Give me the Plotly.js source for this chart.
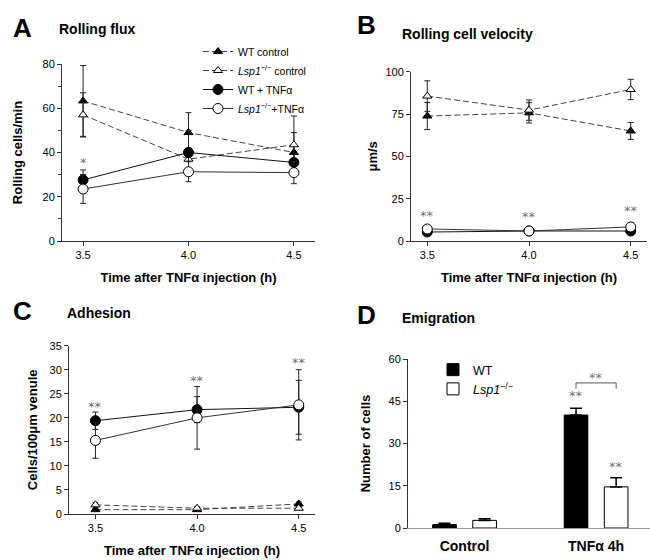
<!DOCTYPE html>
<html>
<head>
<meta charset="utf-8">
<script src="https://cdn.plot.ly/plotly-3.0.1.min.js"></script>
<style>html,body{margin:0;padding:0;background:#fff;}#chart{width:650px;height:560px;}</style>
</head>
<body>
<div id="chart"></div>
<script>
// ---------- data ----------
const times = [3.5, 4.0, 4.5];

// A: Rolling flux (cells/min)
const fluxWTctrl = [63.3, 49, 40];     const fluxWTctrlErr = [16, 9, 9];
const fluxKOctrl = [57, 37, 43.5];     const fluxKOctrlErr = [10, 5, 13];
const fluxWTtnf  = [27.6, 40, 35.5];   const fluxWTtnfErr  = [4.5, 10, 4];
const fluxKOtnf  = [23.5, 31.3, 30.9]; const fluxKOtnfErr  = [6.5, 4.5, 5];
const fluxStarX = [3.5]; const fluxStarY = [35.5]; const fluxStarT = ['*'];

// B: Rolling cell velocity (um/s)
const velWTctrl = [73.8, 75.7, 65];  const velWTctrlErr = [8, 6, 5];
const velKOctrl = [85.6, 77.3, 89.5]; const velKOctrlErr = [9, 6, 6];
const velWTtnf  = [5.3, 5.9, 5.9];   const velWTtnfErr  = [1, 1, 1];
const velKOtnf  = [7.1, 5.9, 8.3];   const velKOtnfErr  = [1.5, 1, 2.5];
const velStarX = [3.5, 4.0, 4.5]; const velStarY = [15.2, 14.2, 17.8]; const velStarT = ['**', '**', '**'];

// C: Adhesion (cells/100um venule)
const adhWTctrl = [0.9, 0.9, 2.1];    const adhWTctrlErr = [0.3, 0.3, 0.4];
const adhKOctrl = [1.9, 1.2, 1.2];    const adhKOctrlErr = [0.4, 0.3, 0.3];
const adhWTtnf  = [19.4, 21.7, 22.2]; const adhWTtnfErr  = [1.8, 2.7, 5.6];
const adhKOtnf  = [15.3, 20.0, 22.7]; const adhKOtnfErr  = [3.7, 6.5, 7.3];
const adhStarX = [3.5, 4.0, 4.5]; const adhStarY = [22.3, 27.7, 31.5]; const adhStarT = ['**', '**', '**'];

// D: Emigration (number of cells)
const groups = ['Control', 'TNFα 4h'];
const emWT = [1.2, 40.1]; const emWTErr = [0.5, 2.4];
const emKO = [2.7, 14.6]; const emKOErr = [0.6, 3.2];

// ---------- styles ----------
const FONT = 'Liberation Sans, Arial, sans-serif';
const names = ['WT control', '<i>Lsp1</i><sup>−/−</sup> control', 'WT + TNFα', '<i>Lsp1</i><sup>−/−</sup>+TNFα'];
const styles = [
  {symbol: 'triangle-up', fill: '#000', dash: '6px,3px', lc: '#444', size: 8},
  {symbol: 'triangle-up', fill: '#fff', dash: '6px,3px', lc: '#444', size: 8},
  {symbol: 'circle', fill: '#000', dash: 'solid', lc: '#111', size: 10},
  {symbol: 'circle', fill: '#fff', dash: 'solid', lc: '#333', size: 10}
];

function series(vals, errs, idx, xa, ya, showleg) {
  const s = styles[idx];
  return {
    type: 'scatter', mode: 'lines+markers', x: times, y: vals,
    xaxis: xa, yaxis: ya, name: names[idx], showlegend: showleg, legend: 'legend',
    line: {color: s.lc, width: 1, dash: s.dash},
    marker: {symbol: s.symbol, size: s.size, color: s.fill, line: {color: '#000', width: 1}},
    error_y: {type: 'data', array: errs, visible: true, color: '#222', thickness: 1, width: 3}
  };
}

const data = [
  series(fluxWTctrl, fluxWTctrlErr, 0, 'x', 'y', true),
  series(fluxKOctrl, fluxKOctrlErr, 1, 'x', 'y', true),
  series(fluxWTtnf, fluxWTtnfErr, 2, 'x', 'y', true),
  series(fluxKOtnf, fluxKOtnfErr, 3, 'x', 'y', true),
  series(velWTctrl, velWTctrlErr, 0, 'x2', 'y2', false),
  series(velKOctrl, velKOctrlErr, 1, 'x2', 'y2', false),
  series(velWTtnf, velWTtnfErr, 2, 'x2', 'y2', false),
  series(velKOtnf, velKOtnfErr, 3, 'x2', 'y2', false),
  series(adhWTctrl, adhWTctrlErr, 0, 'x3', 'y3', false),
  series(adhKOctrl, adhKOctrlErr, 1, 'x3', 'y3', false),
  series(adhWTtnf, adhWTtnfErr, 2, 'x3', 'y3', false),
  series(adhKOtnf, adhKOtnfErr, 3, 'x3', 'y3', false),
  {type: 'bar', x: groups, y: emWT, name: 'WT', xaxis: 'x4', yaxis: 'y4', legend: 'legend2',
   marker: {color: '#000', line: {color: '#000', width: 1}},
   error_y: {type: 'data', array: emWTErr, symmetric: false, arrayminus: [0, 0], color: '#000', thickness: 1.5, width: 6}},
  {type: 'bar', x: groups, y: emKO, name: '<i>Lsp1</i><sup>−/−</sup>', xaxis: 'x4', yaxis: 'y4', legend: 'legend2',
   marker: {color: '#fff', line: {color: '#000', width: 1}},
   error_y: {type: 'data', array: emKOErr, symmetric: false, arrayminus: [0, 0], color: '#000', thickness: 1.5, width: 6}}
];

const tickfont = {family: FONT, size: 11, color: '#000'};
const titlefont = {family: FONT, size: 13, color: '#000', weight: 'bold'};
function xax(dom, anchor, range, title) {
  return {domain: dom, anchor: anchor, range: range, tickvals: times, ticktext: ['3.5', '4.0', '4.5'],
    showline: true, linecolor: '#333', linewidth: 1, ticks: 'outside', ticklen: 4, tickcolor: '#333',
    showgrid: false, zeroline: false, tickfont: tickfont,
    title: {text: title, font: titlefont, standoff: 12}};
}
function yax(dom, anchor, range, dtick, title, standoff) {
  return {domain: dom, anchor: anchor, range: range, dtick: dtick,
    showline: true, linecolor: '#333', linewidth: 1, ticks: 'outside', ticklen: 4, tickcolor: '#333',
    showgrid: false, zeroline: false, tickfont: tickfont,
    title: {text: title, font: titlefont, standoff: standoff}};
}
const W = 650, H = 560;
const px = v => v / W, py = v => 1 - v / H;

const xTitle = 'Time after TNFα injection (h)';
const layout = {
  width: W, height: H, margin: {l: 0, r: 0, t: 0, b: 0},
  paper_bgcolor: '#fff', plot_bgcolor: 'rgba(0,0,0,0)',
  font: {family: FONT, color: '#000'},
  barmode: 'group', bargap: 0.39, bargroupgap: 0.41,
  xaxis: xax([px(62), px(315)], 'y', [3.4, 4.6], xTitle),
  yaxis: Object.assign(yax([py(241), py(64)], 'x', [0, 80], 20, 'Rolling cells/min', 16),
    {minor: {dtick: 10, ticks: 'outside', ticklen: 3, tickcolor: '#333', showgrid: false}}),
  xaxis2: xax([px(411), px(647)], 'y2', [3.42, 4.58], xTitle),
  yaxis2: yax([py(241), py(71.7)], 'x2', [0, 100], 25, 'μm/s', 4),
  xaxis3: xax([px(69), px(315)], 'y3', [3.37, 4.58], xTitle),
  yaxis3: yax([py(514), py(345.7)], 'x3', [0, 35], 5, 'Cells/100μm venule', 8),
  xaxis4: {domain: [px(408), 1], anchor: 'y4', range: [-0.43, 1.41], type: 'category',
    showline: true, linecolor: '#999', linewidth: 1, ticks: '', showgrid: false, zeroline: false,
    ticklabelstandoff: 5,
    tickfont: {family: FONT, size: 14, color: '#000', weight: 'bold'}},
  yaxis4: yax([py(528), py(359)], 'x4', [0, 60], 15, 'Number of cells', 14),
  legend: {x: px(198), y: py(37), xanchor: 'left', yanchor: 'top', bgcolor: 'rgba(0,0,0,0)',
    font: {family: FONT, size: 10.5, color: '#000', weight: 'normal'}, tracegroupgap: 0, itemwidth: 30},
  legend2: {x: px(433), y: py(355), xanchor: 'left', yanchor: 'top', bgcolor: 'rgba(0,0,0,0)',
    font: {family: FONT, size: 12.5, color: '#000', weight: 'normal'}, tracegroupgap: 0, itemwidth: 30},
  annotations: [],
  shapes: []
};

// panel letters and titles
const panelTexts = [
  {t: 'A', x: 11, y: 28, s: 26}, {t: 'Rolling flux', x: 57, y: 29, s: 14},
  {t: 'B', x: 355, y: 25, s: 26}, {t: 'Rolling cell velocity', x: 400, y: 34, s: 14},
  {t: 'C', x: 11, y: 311, s: 26}, {t: 'Adhesion', x: 65, y: 313, s: 14},
  {t: 'D', x: 355, y: 315, s: 26}, {t: 'Emigration', x: 400, y: 318, s: 14}
];
panelTexts.forEach(p => layout.annotations.push({
  text: p.t, xref: 'paper', yref: 'paper', x: px(p.x), y: py(p.y), xanchor: 'left', yanchor: 'middle',
  showarrow: false, font: {family: FONT, size: p.s, color: '#000', weight: 'bold'}
}));

// significance stars
function stars(xs, ys, ts, xr, yr) {
  xs.forEach((x, i) => layout.annotations.push({
    text: ts[i], x: x, y: ys[i], xref: xr, yref: yr, showarrow: false, yanchor: 'middle',
    font: {family: 'DejaVu Sans, sans-serif', size: 13, color: '#707070'}
  }));
}
stars(fluxStarX, fluxStarY, fluxStarT, 'x', 'y');
stars(velStarX, velStarY, velStarT, 'x2', 'y2');
stars(adhStarX, adhStarY, adhStarT, 'x3', 'y3');

// D stars and bracket, positioned from the bar data
const slot = (1 - layout.bargap) / 2;
const gi = 1;
const xWT = gi - slot / 2, xKO = gi + slot / 2;
const topWT = emWT[gi] + emWTErr[gi], topKO = emKO[gi] + emKOErr[gi];
stars([xWT, xKO], [topWT + 4.5, topKO + 4], ['**', '**'], 'x4', 'y4');
const brTop = topWT + 9, brLeg = topWT + 7;
layout.shapes.push(
  {type: 'line', xref: 'x4', yref: 'y4', x0: xWT, x1: xKO, y0: brTop, y1: brTop, line: {color: '#555', width: 1}},
  {type: 'line', xref: 'x4', yref: 'y4', x0: xWT, x1: xWT, y0: brLeg, y1: brTop, line: {color: '#555', width: 1}},
  {type: 'line', xref: 'x4', yref: 'y4', x0: xKO, x1: xKO, y0: brLeg, y1: brTop, line: {color: '#555', width: 1}}
);
stars([gi], [brTop + 2], ['**'], 'x4', 'y4');

Plotly.newPlot('chart', data, layout, {displayModeBar: false, staticPlot: true});
</script>
</body>
</html>
